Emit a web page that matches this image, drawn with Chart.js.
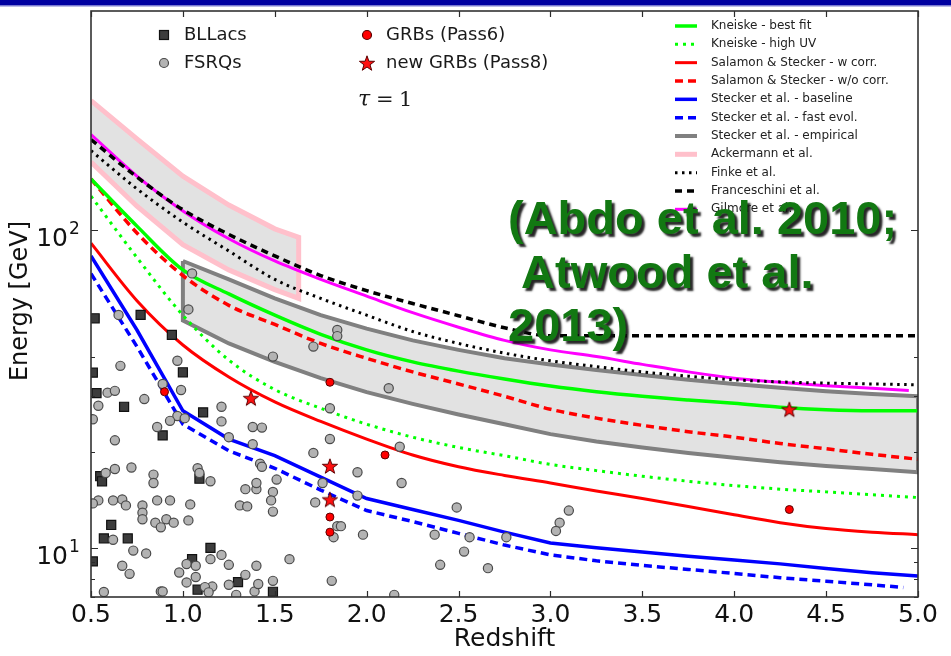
<!DOCTYPE html>
<html>
<head>
<meta charset="utf-8">
<script src="https://cdn.jsdelivr.net/npm/chart.js@4.4.1/dist/chart.umd.min.js"></script>
<style>
  html, body { margin: 0; padding: 0; background: #fff; }
  #wrap { width: 951px; height: 656px; position: relative; }
</style>
</head>
<body>
<div id="wrap"><canvas id="c" width="951" height="656"></canvas></div>
<script>
// ---- source samples: [redshift, energy GeV] ----
const bllacs = [[0.52,52.8],[0.77,54.1],[0.94,46.8],[0.51,35.6],[1.00,35.7],[0.53,30.7],[0.68,27.8],[1.11,26.7],
  [0.89,22.6],[0.55,16.8],[0.56,16.2],[1.09,16.5],[0.61,11.8],[0.57,10.7],[0.70,10.7],[1.15,10.0],[1.05,9.21],
  [0.51,9.06],[1.30,7.80],[1.08,7.38],[1.49,7.27]];

const fsrqs = [[0.65,54.1],[1.03,56.3],[1.05,73.1],[0.97,38.8],[0.66,37.4],[0.89,32.8],[0.59,30.8],[0.63,31.2],
  [0.99,31.4],[0.54,28.0],[0.79,29.4],[0.51,25.4],[0.97,26.0],[0.93,25.1],[1.01,25.6],[1.21,27.8],[1.21,25.0],
  [0.86,24.0],[0.63,21.8],[1.25,22.3],[1.38,21.2],[1.38,24.0],[1.43,23.9],[0.63,17.7],[0.72,17.9],[0.58,17.2],
  [0.84,17.0],[0.84,16.0],[1.08,17.8],[1.09,17.2],[1.15,16.2],[1.34,15.3],[1.40,15.3],[1.40,16.0],[1.42,18.4],
  [1.43,18.0],[0.54,14.1],[0.51,13.8],[0.62,14.1],[0.67,14.2],[0.69,13.6],[0.78,13.6],[0.78,12.9],[0.78,12.3],
  [0.86,14.1],[0.93,14.1],[1.04,13.7],[1.31,13.6],[1.35,13.5],[0.85,12.0],[0.88,11.6],[0.91,12.3],[0.95,12.0],
  [1.03,12.2],[0.62,10.6],[0.73,9.8],[0.80,9.6],[0.67,8.78],[0.71,8.28],[0.98,8.36],[1.02,8.89],[1.07,8.78],
  [1.15,9.21],[1.21,9.50],[1.25,8.84],[1.40,8.78],[1.34,8.22],[1.02,7.78],[1.07,8.09],[1.16,7.55],[1.25,7.65],
  [0.57,7.26],[0.88,7.29],[0.89,7.29],[1.12,7.52],[1.29,7.11],[1.39,7.29],[1.14,7.24],[1.41,7.69],[1.49,7.87],
  [1.58,9.21],[1.81,7.87],[2.15,7.11],[2.40,8.84],[2.66,8.63],[2.53,9.73],[2.37,11.0],[2.56,10.8],[2.76,10.8],
  [2.49,13.4],[3.10,13.1],[3.05,12.0],[3.03,11.3],[1.84,11.7],[1.86,11.7],[1.82,10.8],[1.98,11.0],[1.84,48.5],
  [1.84,46.4],[1.71,43.0],[1.49,40.0],[2.12,31.8],[1.80,27.5],[1.80,22.0],[2.18,20.8],[1.71,19.9],[1.95,17.3],
  [1.51,16.4],[2.19,16.0],[1.49,15.0],[1.76,16.0],[1.95,14.6],[1.48,14.1],[1.49,13.0],[1.72,13.9]];

const grbPass6 = [[0.90,31.0],[1.80,33.2],[2.10,19.6],[1.80,12.5],[1.80,11.2],[4.30,13.2]];
const grbPass8 = [[1.37,29.6],[1.80,18.1],[1.80,14.2],[4.30,27.3]];

// ---- EBL model horizons (tau = 1): [redshift, energy GeV] ----
const kneiskeBest = [[0.5,145],[0.75,103],[1.0,75],[1.25,63],[1.5,54],[1.75,47],[2.0,42],[2.25,38.5],[2.5,36],
  [2.75,34],[3.0,32.3],[3.25,31],[3.5,30],[3.75,29.2],[4.0,28.5],[4.25,27.7],[4.5,27.2],[4.75,27],[5.0,27]];
const kneiskeHighUV = [[0.5,128],[0.75,82],[1.0,54],[1.25,39],[1.5,31.5],[1.75,27.5],[2.0,24.5],[2.25,22.3],
  [2.5,20.7],[2.75,19.5],[3.0,18.3],[3.25,17.5],[3.5,16.8],[3.75,16.2],[4.0,15.7],[4.25,15.3],[4.5,15],[4.75,14.7],[5.0,14.4]];
const salamonW = [[0.5,91],[0.75,60],[1.0,43.5],[1.25,34.5],[1.5,28.8],[1.75,25],[2.0,22],[2.25,19.6],[2.5,18],
  [2.75,16.9],[3.0,16],[3.25,15.1],[3.5,14.3],[3.75,13.5],[4.0,12.7],[4.25,12],[4.5,11.5],[4.75,11.2],[5.0,11]];
const salamonWo = [[0.5,145],[0.75,98],[1.0,72],[1.25,58],[1.5,50.5],[1.75,44],[2.0,39.5],[2.25,35.8],[2.5,32.8],
  [2.75,30.0],[3.0,27.3],[3.25,25.6],[3.5,24.3],[3.75,23.2],[4.0,22.3],[4.25,21.3],[4.5,20.5],[4.75,19.7],[5.0,19]];
const steckerBase = [[0.5,83],[0.75,48.5],[1.0,27],[1.25,22],[1.5,19.5],[1.75,16.7],[2.0,14.3],[2.25,13.2],[2.5,12.2],
  [2.75,11.2],[3.0,10.35],[3.25,10.0],[3.5,9.7],[3.75,9.4],[4.0,9.15],[4.25,8.9],[4.5,8.6],[4.75,8.35],[5.0,8.15]];
const steckerFast = [[0.5,73],[0.75,43],[1.0,24.5],[1.25,20.2],[1.5,17.8],[1.75,15.2],[2.0,13.1],[2.25,12.1],[2.5,11.1],
  [2.75,10.2],[3.0,9.5],[3.25,9.1],[3.5,8.8],[3.75,8.55],[4.0,8.3],[4.25,8.05],[4.5,7.85],[4.75,7.65],[4.92,7.5]];
const steckerEmpUpper = [[1.0,80],[1.25,70],[1.5,61],[1.75,54],[2.0,49],[2.25,45],[2.5,42],[2.75,39.5],[3.0,37.8],
  [3.25,36.3],[3.5,35],[3.75,33.8],[4.0,32.8],[4.25,31.9],[4.5,31.1],[4.75,30.5],[5.0,30]];
const steckerEmpLower = [[1.0,52],[1.25,44],[1.5,38.5],[1.75,34.2],[2.0,30.9],[2.25,28.4],[2.5,26.3],[2.75,24.5],
  [3.0,22.8],[3.25,21.6],[3.5,20.7],[3.75,19.9],[4.0,19.2],[4.25,18.6],[4.5,18.1],[4.75,17.7],[5.0,17.3]];
const ackermannUpper = [[0.5,256],[0.75,194],[1.0,148],[1.25,120],[1.5,101],[1.63,95]];
const ackermannLower = [[0.5,164],[0.75,119],[1.0,90],[1.25,75],[1.5,65],[1.63,61]];
const finke = [[0.5,178],[0.75,135],[1.0,106],[1.25,86],[1.5,70],[1.75,61],[2.0,54],[2.25,48],[2.5,44],[2.75,41],
  [3.0,38.8],[3.25,37.2],[3.5,35.8],[3.75,34.7],[4.0,33.8],[4.25,33.3],[4.5,33],[4.75,32.8],[5.0,32.6]];
const franceschini = [[0.5,193],[0.75,147],[1.0,116],[1.25,97],[1.5,83],[1.75,72],[2.0,64.5],[2.25,58.8],[2.5,53.8],
  [2.75,49.3],[3.0,46.5],[5.0,46.5]];
const gilmore = [[0.5,200],[0.75,148],[1.0,115],[1.25,94],[1.5,80],[1.75,70],[2.0,62],[2.25,55],[2.5,49.5],[2.75,45],
  [3.0,42],[3.25,40],[3.5,37.8],[3.75,35.8],[4.0,34.2],[4.25,33.2],[4.5,32.4],[4.75,31.8],[4.95,31.3]];

// ---- axis ticks ----
const xTicks = [0.5,1.0,1.5,2.0,2.5,3.0,3.5,4.0,4.5,5.0];
const xTickLabels = ['0.5','1.0','1.5','2.0','2.5','3.0','3.5','4.0','4.5','5.0'];
const yMajorTicks = [10, 100];
const yTickBase = '10';
const yTickExp = ['1', '2'];
const yMinorTicks = [7, 8, 9, 20, 30, 40];

const pts = a => a.map(p => ({ x: p[0], y: p[1] }));

// filled five-pointed star used as a marker
function makeStar(outerR, fill, stroke) {
  const innerR = outerR * 0.4;
  const s = Math.ceil(outerR * 2 + 4);
  const cv = document.createElement('canvas');
  cv.width = s; cv.height = s;
  const c = cv.getContext('2d');
  const cx = s / 2, cy = s / 2 + outerR * 0.1;
  c.beginPath();
  for (let i = 0; i < 10; i++) {
    const r = i % 2 === 0 ? outerR : innerR;
    const ang = -Math.PI / 2 + i * Math.PI / 5;
    c.lineTo(cx + r * Math.cos(ang), cy + r * Math.sin(ang));
  }
  c.closePath();
  c.fillStyle = fill; c.fill();
  c.lineWidth = 1; c.strokeStyle = stroke; c.stroke();
  return cv;
}
const starImg = makeStar(8, '#ff1010', '#5a0000');

const bandFill = 'rgba(150,150,150,0.28)';

// model curves, in legend order
const models = [
  { label: 'Kneiske - best fit', data: kneiskeBest, color: '#00ff00', width: 3.5, dash: [] },
  { label: 'Kneiske - high UV', data: kneiskeHighUV, color: '#00ff00', width: 3, dash: [3, 5] },
  { label: 'Salamon & Stecker - w corr.', data: salamonW, color: '#ff0000', width: 3, dash: [] },
  { label: 'Salamon & Stecker - w/o corr.', data: salamonWo, color: '#ff0000', width: 3.5, dash: [8, 5] },
  { label: 'Stecker et al. - baseline', data: steckerBase, color: '#0000ff', width: 3.5, dash: [], straight: true },
  { label: 'Stecker et al. - fast evol.', data: steckerFast, color: '#0000ff', width: 3.5, dash: [8, 5], straight: true },
  { label: 'Stecker et al. - empirical', band: [steckerEmpUpper, steckerEmpLower], color: '#808080', width: 4, dash: [] },
  { label: 'Ackermann et al.', band: [ackermannUpper, ackermannLower], color: '#ffc0cb', width: 5, dash: [] },
  { label: 'Finke et al.', data: finke, color: '#000000', width: 3, dash: [2.5, 4.5] },
  { label: 'Franceschini et al.', data: franceschini, color: '#000000', width: 3.5, dash: [7, 5] },
  { label: 'Gilmore et al.', data: gilmore, color: '#ff00ff', width: 3, dash: [] }
];

const datasets = [
  { label: 'new GRBs (Pass8)', data: pts(grbPass8), pointStyle: starImg, pointRadius: 8, order: 0 },
  { label: 'GRBs (Pass6)', data: pts(grbPass6), pointStyle: 'circle', pointRadius: 4,
    backgroundColor: '#ff0000', borderColor: '#5a0000', borderWidth: 1, order: 1 },
  { label: 'FSRQs', data: pts(fsrqs), pointStyle: 'circle', pointRadius: 4.6,
    backgroundColor: '#b3b3b3', borderColor: '#4a4a4a', borderWidth: 1.2, order: 2 },
  { label: 'BLLacs', data: pts(bllacs), pointStyle: 'rect', pointRadius: 6.4,
    backgroundColor: '#3c3c3c', borderColor: '#111111', borderWidth: 1.2, order: 3 }
];

models.forEach((m, i) => {
  if (m.band) {
    const [up, lo] = m.band;
    let poly = up.concat(lo.slice().reverse());
    if (up[0][0] > 0.5) poly = poly.concat([up[0]]);
    datasets.push({ label: m.label, data: pts(poly), showLine: true, pointRadius: 0,
      borderColor: m.color, borderWidth: m.width, borderDash: m.dash, backgroundColor: bandFill,
      fill: 'shape', tension: 0, borderJoinStyle: 'miter', order: 30 + i });
  } else {
    datasets.push({ label: m.label, data: pts(m.data), showLine: true, pointRadius: 0,
      borderColor: m.color, borderWidth: m.width, borderDash: m.dash, borderCapStyle: 'butt',
      fill: false, tension: 0,
      cubicInterpolationMode: m.straight ? 'default' : 'monotone', order: 10 + i });
  }
});

const annotate = {
  id: 'annotate',
  afterDatasetsDraw(chart) {
    const { ctx, chartArea: a, scales: { x, y } } = chart;
    ctx.save();
    ctx.strokeStyle = '#2b2b2b';
    ctx.lineWidth = 1.2;
    ctx.beginPath();
    xTicks.forEach(v => {
      const px = Math.round(x.getPixelForValue(v)) + 0.5;
      ctx.moveTo(px, a.bottom); ctx.lineTo(px, a.bottom - 6);
      ctx.moveTo(px, a.top); ctx.lineTo(px, a.top + 6);
    });
    yMajorTicks.forEach(v => {
      const py = Math.round(y.getPixelForValue(v)) + 0.5;
      ctx.moveTo(a.left, py); ctx.lineTo(a.left + 7, py);
      ctx.moveTo(a.right, py); ctx.lineTo(a.right - 7, py);
    });
    yMinorTicks.forEach(v => {
      const py = Math.round(y.getPixelForValue(v)) + 0.5;
      ctx.moveTo(a.left, py); ctx.lineTo(a.left + 4, py);
      ctx.moveTo(a.right, py); ctx.lineTo(a.right - 4, py);
    });
    ctx.stroke();
    ctx.lineWidth = 1.6;
    ctx.strokeStyle = '#333';
    ctx.strokeRect(a.left, a.top, a.right - a.left, a.bottom - a.top);
    ctx.restore();
  },
  afterDraw(chart) {
    const { ctx, chartArea: a, scales: { x, y } } = chart;
    ctx.save();
    ctx.fillStyle = '#111';
    ctx.textBaseline = 'alphabetic';

    // x tick labels
    ctx.font = '25px "DejaVu Sans"';
    ctx.textAlign = 'center';
    xTicks.forEach((v, i) => ctx.fillText(xTickLabels[i], x.getPixelForValue(v), 622));

    // y tick labels (powers of ten)
    yMajorTicks.forEach((v, i) => {
      const py = y.getPixelForValue(v);
      ctx.font = '25px "DejaVu Sans"';
      ctx.textAlign = 'right';
      ctx.fillText(yTickBase, 68, py + 16);
      ctx.font = '17px "DejaVu Sans"';
      ctx.textAlign = 'left';
      ctx.fillText(yTickExp[i], 69, py + 4);
    });

    // axis titles
    ctx.font = '25px "DejaVu Sans"';
    ctx.textAlign = 'center';
    ctx.fillText('Redshift', (a.left + a.right) / 2, 646);
    ctx.save();
    ctx.translate(27, 301);
    ctx.rotate(-Math.PI / 2);
    ctx.font = '24px "DejaVu Sans"';
    ctx.fillText('Energy [GeV]', 0, 0);
    ctx.restore();

    // source legend
    ctx.textAlign = 'left';
    ctx.textBaseline = 'middle';
    ctx.font = '18px "DejaVu Sans"';
    ctx.fillStyle = '#3c3c3c'; ctx.strokeStyle = '#111'; ctx.lineWidth = 1.2;
    ctx.fillRect(159.5, 30.5, 9, 9); ctx.strokeRect(159.5, 30.5, 9, 9);
    ctx.beginPath(); ctx.arc(164, 63, 4.5, 0, Math.PI * 2);
    ctx.fillStyle = '#b3b3b3'; ctx.fill(); ctx.strokeStyle = '#4a4a4a'; ctx.stroke();
    ctx.beginPath(); ctx.arc(367, 35, 4.5, 0, Math.PI * 2);
    ctx.fillStyle = '#ff0000'; ctx.fill(); ctx.strokeStyle = '#5a0000'; ctx.stroke();
    ctx.drawImage(starImg, 367 - starImg.width / 2, 63 - starImg.height / 2);
    ctx.fillStyle = '#1a1a1a';
    ctx.fillText('BLLacs', 184, 35);
    ctx.fillText('FSRQs', 184, 63);
    ctx.fillText('GRBs (Pass6)', 386, 35);
    ctx.fillText('new GRBs (Pass8)', 386, 63);

    // optical depth label
    ctx.textBaseline = 'alphabetic';
    ctx.font = 'italic 22px "DejaVu Serif"';
    ctx.fillText('τ', 358, 106);
    ctx.font = '21px "DejaVu Serif"';
    ctx.fillText('=', 376, 106);
    ctx.fillText('1', 399, 106);

    // model legend
    ctx.textBaseline = 'middle';
    ctx.font = '12px "DejaVu Sans"';
    models.forEach((m, i) => {
      const ry = 26 + i * 18.33;
      ctx.save();
      ctx.strokeStyle = m.color;
      ctx.lineWidth = m.width;
      ctx.lineCap = 'butt';
      ctx.setLineDash(m.dash);
      ctx.beginPath(); ctx.moveTo(675, ry); ctx.lineTo(697, ry); ctx.stroke();
      ctx.restore();
      ctx.fillStyle = '#222';
      ctx.fillText(m.label, 711, ry);
    });

    // citation overlay
    ctx.textBaseline = 'alphabetic';
    ctx.font = 'bold 47px "Liberation Sans"';
    ctx.shadowColor = 'rgba(15,15,15,0.9)';
    ctx.shadowBlur = 2;
    ctx.shadowOffsetX = 3;
    ctx.shadowOffsetY = 3;
    ctx.fillStyle = '#127812';
    ctx.fillText('(Abdo et al. 2010;', 508, 234);
    ctx.fillText(' Atwood et al.', 508, 288);
    ctx.fillText('2013)', 508, 341);
    ctx.restore();

    // slide header strip
    ctx.save();
    ctx.fillStyle = '#0000a0';
    ctx.fillRect(0, 0, 951, 5);
    ctx.fillStyle = '#7a7ad0';
    ctx.fillRect(0, 5, 951, 1.5);
    ctx.restore();
  }
};

new Chart(document.getElementById('c'), {
  type: 'scatter',
  data: { datasets },
  options: {
    responsive: false,
    animation: false,
    devicePixelRatio: 1,
    events: [],
    layout: { padding: { left: 91, right: 33, top: 11, bottom: 59 } },
    scales: {
      x: { type: 'linear', min: 0.5, max: 5.0, display: false },
      y: { type: 'logarithmic', min: 7, max: 490, display: false }
    },
    plugins: { legend: { display: false }, tooltip: { enabled: false } }
  },
  plugins: [annotate]
});
</script>
</body>
</html>
